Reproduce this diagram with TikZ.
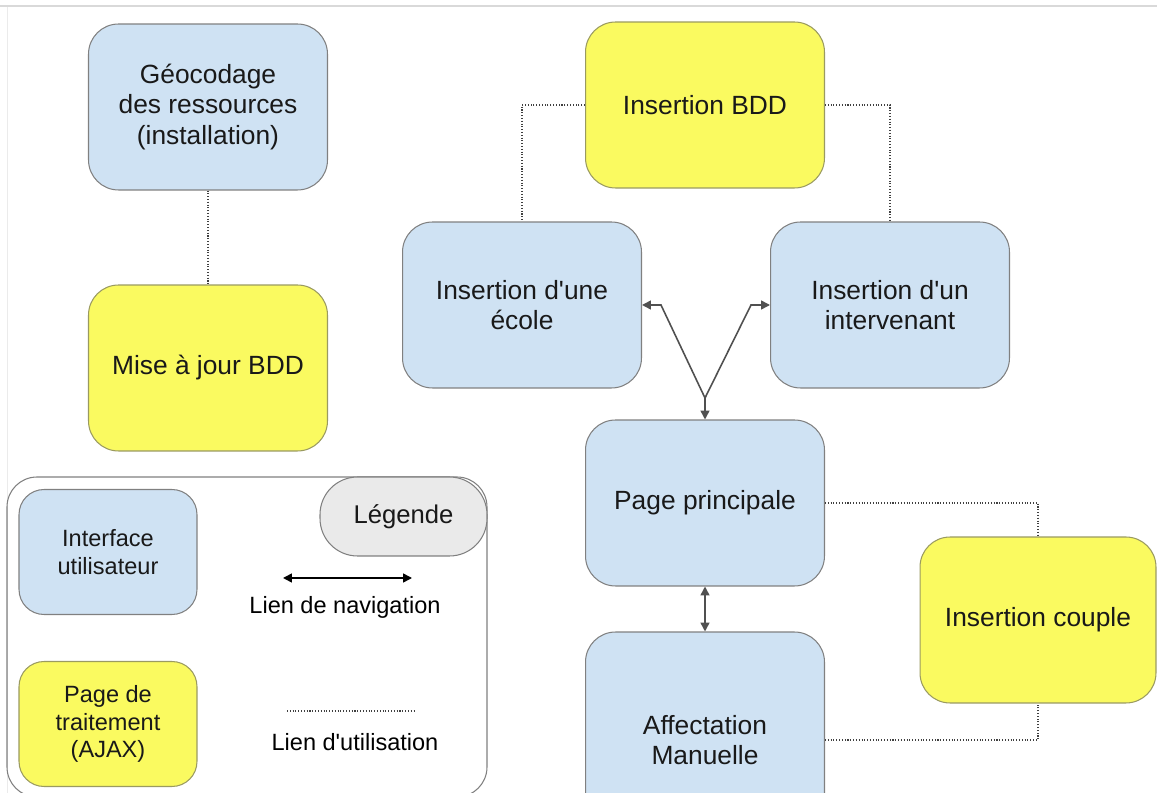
\documentclass[tikz,border=0pt]{standalone}
\usepackage{fontspec}
\setmainfont{Liberation Sans}
\usetikzlibrary{arrows.meta}
\definecolor{uiblue}{HTML}{CFE2F3}
\definecolor{ajaxyellow}{HTML}{FAFA60}
\definecolor{edgegray}{HTML}{808080}
\definecolor{ajaxedge}{HTML}{9A9A60}
\definecolor{arrowgray}{HTML}{505050}
\definecolor{leggray}{HTML}{EAEAEA}
\begin{document}
\begin{tikzpicture}[x=0.02cm, y=-0.02cm,
  box/.style={rectangle, rounded corners=0.6cm, draw=edgegray, line width=0.6pt, minimum width=4.78cm, minimum height=3.32cm, align=center, text=black!90, font=\fontsize{15}{17.5}\selectfont},
  ui node/.style={box, fill=uiblue},
  ajax node/.style={box, fill=ajaxyellow, draw=ajaxedge},
  key node/.style={box, minimum width=3.56cm, minimum height=2.5cm, rounded corners=0.5cm, font=\fontsize{13.4}{15.5}\selectfont},
  navlink/.style={arrowgray, line width=0.9pt, >={Triangle[length=5pt,width=5pt]}},
  uselink/.style={black!75, densely dotted, line width=0.6pt}]
\useasboundingbox (0,0) rectangle (1157,793);
\clip (0,0) rectangle (1157,793);
\fill[black!15] (0,5) rectangle (1157,7.5);
\draw[black!8, line width=0.5pt] (7,7) -- (7,793);
\node [ui node] (geo) at (208,107) {Géocodage\\des ressources\\(installation)};
\node [ajax node] (maj) at (208,368) {Mise à jour BDD};
\node [ajax node] (bdd) at (705,105) {Insertion BDD};
\node [ui node] (ecole) at (522,305) {Insertion d\textquotesingle une\\école};
\node [ui node] (interv) at (890,305) {Insertion d\textquotesingle un\\intervenant};
\node [ui node] (princ) at (705,503) {Page principale};
\node [ui node, minimum height=4.32cm] (affect) at (705,740) {Affectation\\Manuelle};
\node [ajax node, minimum width=4.72cm] (couple) at (1038,620) {Insertion couple};
\coordinate (jl) at (661,305);
\coordinate (jr) at (751,305);
\coordinate (j) at (705,398);
\draw [navlink, <->] (ecole.east) -- (jl) -- (j) -- (jr) -- (interv.west);
\draw [navlink, ->] (j) -- (princ.north);
\draw [navlink, <->] (princ.south) -- (affect.north);
\draw [uselink] (geo) -- (maj);
\draw [uselink] (bdd.west) -| (ecole.north);
\draw [uselink] (bdd.east) -| (interv.north);
\draw [uselink] (princ.east) -| (couple.north);
\draw [uselink] (affect.east) -| (couple.south);
\draw [edgegray, line width=0.6pt, rounded corners=0.6cm] (7,477) rectangle (487,797);
\node [box, fill=leggray, minimum width=3.34cm, minimum height=1.58cm, rounded corners=0.75cm, font=\fontsize{14.6}{17}\selectfont] (legende) at (403.5,516.5) {Légende};
\node [key node, fill=uiblue] (iface) at (108,552) {Interface\\utilisateur};
\node [key node, fill=ajaxyellow, draw=ajaxedge] (traite) at (108,724) {Page de\\traitement\\(AJAX)};
\coordinate (navl) at (283,578);
\coordinate (navr) at (412,578);
\draw [navlink, <->, black] (navl) -- (navr);
\node [font=\fontsize{13.4}{15.5}\selectfont] (navtext) at (345,607) {Lien de navigation};
\coordinate (usel) at (287,711);
\coordinate (user) at (416,711);
\draw [uselink] (usel) -- (user);
\node [font=\fontsize{13.4}{15.5}\selectfont] (usetext) at (355,742) {Lien d\textquotesingle utilisation};
\end{tikzpicture}
\end{document}
